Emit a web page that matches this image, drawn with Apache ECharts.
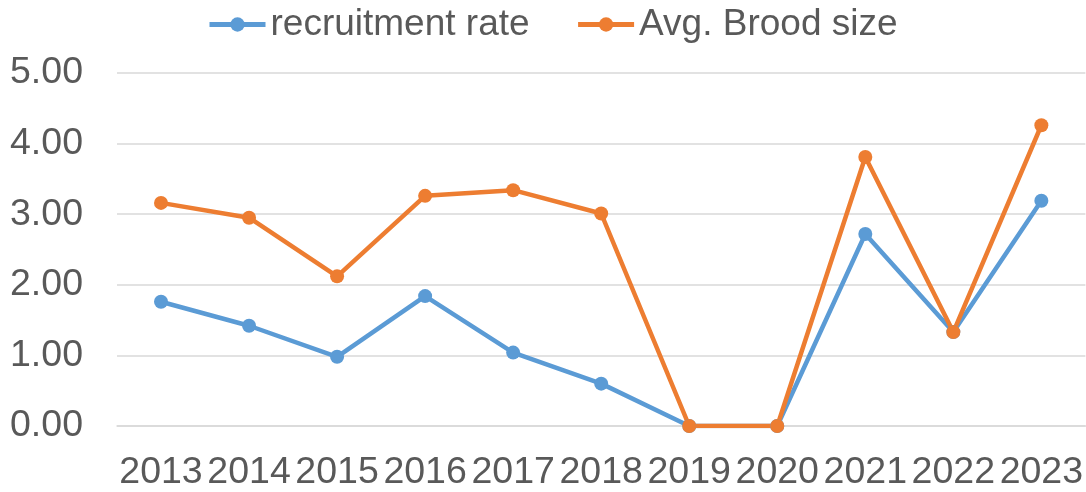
<!DOCTYPE html>
<html>
<head>
<meta charset="utf-8">
<script src="https://cdn.jsdelivr.net/npm/echarts@6/dist/echarts.min.js"></script>
<style>html,body{margin:0;padding:0;background:#fff;overflow:hidden;}#c{width:1086px;height:492px;}</style>
</head>
<body>
<div id="c"></div>
<script>
const years = ['2013','2014','2015','2016','2017','2018','2019','2020','2021','2022','2023'];
const recruitmentRate = [1.76, 1.42, 0.98, 1.84, 1.04, 0.60, 0, 0, 2.72, 1.33, 3.19];
const avgBroodSize = [3.16, 2.95, 2.12, 3.26, 3.34, 3.01, 0, 0, 3.81, 1.33, 4.26];
const seriesNames = ['recruitment rate', 'Avg. Brood size'];

const font = 'Liberation Sans, Arial, sans-serif';
const chart = echarts.init(document.getElementById('c'));
chart.setOption({
  animation: false,
  color: ['#5B9BD5', '#ED7D31'],
  legend: {
    left: 202, top: 1,
    itemWidth: 56, itemHeight: 18, itemGap: 46,
    lineStyle: { width: 5 },
    textStyle: { fontFamily: font, fontSize: 37, color: '#595959' },
    data: seriesNames
  },
  grid: { left: 117, width: 970, top: 73, height: 356, containLabel: false },
  xAxis: {
    type: 'category', data: years, boundaryGap: true,
    axisLine: { lineStyle: { color: '#D9D9D9', width: 1.5 } },
    axisTick: { show: false },
    axisLabel: { interval: 0, fontFamily: font, fontSize: 37.5, color: '#595959', margin: 28 }
  },
  yAxis: {
    type: 'value', min: 0, max: 5, interval: 1,
    axisLine: { show: false }, axisTick: { show: false },
    splitLine: { lineStyle: { color: '#D9D9D9', width: 1.5 } },
    axisLabel: { fontFamily: font, fontSize: 37.5, color: '#595959', margin: 34,
      formatter: v => v.toFixed(2) }
  },
  series: [
    { name: seriesNames[0], type: 'line', data: recruitmentRate, symbol: 'circle', symbolSize: 14,
      lineStyle: { width: 4.5 }, itemStyle: { color: '#5B9BD5' } },
    { name: seriesNames[1], type: 'line', data: avgBroodSize, symbol: 'circle', symbolSize: 14,
      lineStyle: { width: 4.5 }, itemStyle: { color: '#ED7D31' } }
  ]
});
</script>
</body>
</html>
